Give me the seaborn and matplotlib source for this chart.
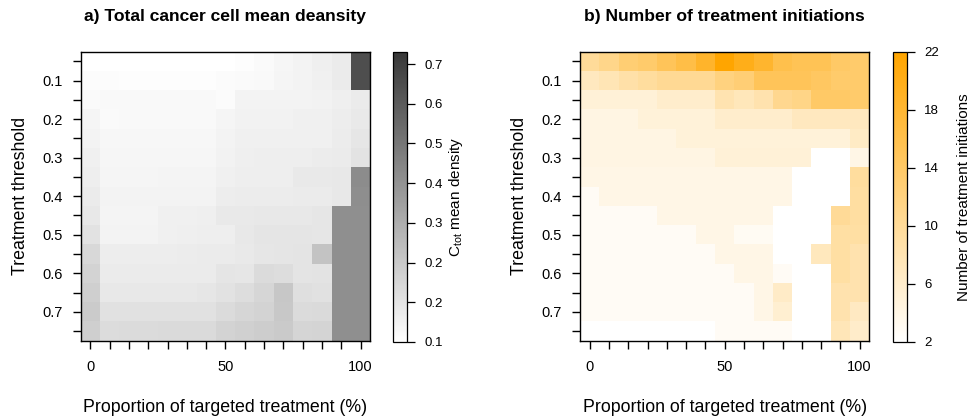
import numpy as np
import pandas as pd
import matplotlib
matplotlib.use("Agg")
import matplotlib.pyplot as plt
import seaborn as sns
from matplotlib.colors import LinearSegmentedColormap

# ---------------- data ----------------
proportion = [0, 7.1, 14.3, 21.4, 28.6, 35.7, 42.9, 50, 57.1, 64.3, 71.4, 78.6, 85.7, 92.9, 100]
threshold = [0.05, 0.10, 0.15, 0.20, 0.25, 0.30, 0.35, 0.40, 0.45, 0.50, 0.55, 0.60, 0.65, 0.70, 0.75]
x_tick_labels = ["0", "", "", "", "", "", "", "50", "", "", "", "", "", "", "100"]
y_tick_labels = ["", "0.1", "", "0.2", "", "0.3", "", "0.4", "", "0.5", "", "0.6", "", "0.7", ""]

density = [
    [.100, .100, .100, .100, .100, .100, .100, .100, .106, .116, .128, .138, .151, .166, .657],
    [.110, .110, .106, .106, .106, .106, .106, .113, .116, .122, .132, .138, .147, .166, .657],
    [.119, .122, .122, .122, .122, .122, .122, .113, .138, .138, .141, .141, .144, .151, .163],
    [.132, .116, .122, .122, .122, .122, .122, .132, .144, .144, .144, .147, .147, .157, .170],
    [.138, .125, .125, .125, .125, .125, .125, .138, .147, .147, .147, .147, .147, .160, .179],
    [.147, .128, .128, .128, .128, .128, .128, .144, .151, .154, .154, .154, .160, .166, .189],
    [.154, .132, .132, .132, .135, .135, .135, .147, .154, .154, .154, .170, .170, .173, .464],
    [.163, .138, .138, .138, .138, .138, .141, .157, .160, .160, .160, .166, .166, .173, .458],
    [.176, .135, .135, .135, .147, .147, .151, .170, .170, .173, .173, .173, .179, .455, .455],
    [.192, .138, .138, .138, .147, .151, .154, .154, .176, .182, .182, .182, .179, .455, .455],
    [.223, .157, .157, .157, .157, .160, .163, .163, .170, .179, .182, .185, .290, .455, .455],
    [.239, .163, .163, .163, .163, .166, .166, .182, .179, .214, .208, .185, .189, .455, .455],
    [.252, .173, .173, .176, .176, .176, .179, .192, .208, .230, .277, .201, .195, .455, .455],
    [.265, .195, .195, .195, .198, .198, .198, .214, .230, .242, .274, .214, .217, .455, .455],
    [.252, .211, .214, .214, .217, .217, .220, .239, .249, .258, .268, .233, .236, .455, .455],
]

initiations = [
    [10.0, 11.2, 13.0, 13.6, 15.0, 16.4, 18.6, 22.0, 20.0, 18.4, 16.0, 15.3, 15.3, 14.0, 13.6],
    [7.0, 7.8, 8.8, 9.6, 10.4, 10.4, 10.4, 12.0, 12.8, 15.0, 15.0, 15.0, 14.4, 13.6, 13.6],
    [5.2, 5.2, 5.2, 5.2, 6.0, 6.0, 6.0, 8.2, 7.4, 8.4, 10.8, 11.4, 14.0, 14.0, 13.6],
    [4.2, 4.2, 4.2, 5.0, 5.0, 5.0, 5.0, 6.0, 6.0, 6.0, 6.0, 7.0, 7.0, 7.0, 7.0],
    [4.2, 4.2, 4.2, 4.2, 4.2, 5.0, 5.0, 5.0, 5.0, 5.0, 5.0, 5.0, 5.0, 5.0, 6.6],
    [4.2, 4.2, 4.2, 4.2, 4.2, 4.2, 4.2, 5.2, 5.2, 5.2, 5.2, 5.2, 2.0, 2.0, 4.0],
    [4.0, 4.0, 4.0, 4.0, 4.0, 4.0, 4.0, 4.0, 4.0, 4.0, 4.0, 2.0, 2.0, 2.0, 9.6],
    [2.8, 4.0, 4.0, 4.0, 4.0, 4.0, 4.0, 4.0, 4.0, 4.0, 4.0, 2.0, 2.0, 2.0, 9.4],
    [2.8, 2.8, 2.8, 2.8, 4.0, 4.0, 4.0, 4.0, 4.0, 4.0, 2.0, 2.0, 2.0, 10.2, 9.4],
    [2.8, 2.8, 2.8, 2.8, 2.8, 2.8, 4.0, 4.0, 3.0, 3.0, 2.0, 2.0, 2.0, 9.2, 9.2],
    [2.8, 2.8, 2.8, 2.8, 2.8, 2.8, 2.8, 4.0, 4.0, 4.0, 2.0, 2.0, 7.2, 9.2, 8.4],
    [2.8, 2.8, 2.8, 2.8, 2.8, 2.8, 2.8, 2.8, 4.0, 4.0, 2.8, 2.0, 2.0, 9.2, 8.4],
    [2.8, 2.8, 2.8, 2.8, 2.8, 2.8, 2.8, 2.8, 2.8, 4.0, 6.4, 2.0, 2.0, 8.4, 8.4],
    [2.8, 2.8, 2.8, 2.8, 2.8, 2.8, 2.8, 2.8, 2.8, 4.0, 5.6, 2.0, 2.0, 8.4, 6.8],
    [2.0, 2.0, 2.0, 2.0, 2.0, 2.0, 2.0, 2.8, 2.8, 2.8, 2.8, 2.0, 2.0, 7.6, 6.2],
]

density_cbar_ticks = [0.1, 0.186, 0.272, 0.358, 0.444, 0.530, 0.616, 0.702]
density_cbar_labels = ["0.1", "0.2", "0.2", "0.3", "0.4", "0.5", "0.6", "0.7"]
init_cbar_ticks = [2, 6, 10, 14, 18, 22]
init_cbar_labels = ["2", "6", "10", "14", "18", "22"]

# ---------------- style ----------------
sns.set_style("white")
plt.rcParams["font.family"] = ["Liberation Sans", "DejaVu Sans"]
plt.rcParams["mathtext.fontset"] = "custom"
plt.rcParams["mathtext.rm"] = "Liberation Sans"
plt.rcParams["text.color"] = "black"
plt.rcParams["axes.labelcolor"] = "black"
plt.rcParams["xtick.color"] = "black"
plt.rcParams["ytick.color"] = "black"

W, H = 977, 417
fig = plt.figure(figsize=(W / 100, H / 100), dpi=100)

def fx(px):
    return px / W

def fy(py):
    return 1 - py / H

gray_cmap = LinearSegmentedColormap.from_list("grays_w", ["#ffffff", "#383838"])
orange_cmap = LinearSegmentedColormap.from_list("orange_w", ["#ffffff", "#ffa500"])

panels = [
    dict(data=density, cmap=gray_cmap, vmin=0.1, vmax=0.728,
         ax=[80.7, 370.2], cax=[393.3, 407.3],
         title="a) Total cancer cell mean deansity",
         cticks=density_cbar_ticks, clabels=density_cbar_labels,
         clabel=r"$\mathregular{C_{tot}}$ mean density", clabel_x=456),
    dict(data=initiations, cmap=orange_cmap, vmin=2, vmax=22,
         ax=[580.0, 869.3], cax=[893.3, 906.7],
         title="b) Number of treatment initiations",
         cticks=init_cbar_ticks, clabels=init_cbar_labels,
         clabel="Number of treatment initiations", clabel_x=964),
]

top, bottom = 51.7, 340.7
for p in panels:
    ax = fig.add_axes([fx(p["ax"][0]), fy(bottom), fx(p["ax"][1] - p["ax"][0]), (bottom - top) / H])
    cax = fig.add_axes([fx(p["cax"][0]), fy(342), fx(p["cax"][1] - p["cax"][0]), (342 - 52) / H])
    df = pd.DataFrame(p["data"], index=threshold, columns=proportion)
    sns.heatmap(df, ax=ax, cbar_ax=cax, cmap=p["cmap"], vmin=p["vmin"], vmax=p["vmax"],
                xticklabels=False, yticklabels=False)
    for s in ax.spines.values():
        s.set_visible(True)
        s.set_color("black")
        s.set_linewidth(1.0)
    ax.set_xticks(np.arange(len(proportion)) + 0.5)
    ax.set_xticklabels(x_tick_labels, rotation=0)
    ax.set_yticks(np.arange(len(threshold)) + 0.5)
    ax.set_yticklabels(y_tick_labels, rotation=0)
    ax.tick_params(axis="both", which="major", direction="out", length=6, width=1,
                   color="black", labelsize=10.5, labelcolor="black",
                   bottom=True, left=True)
    ax.tick_params(axis="x", pad=8)
    ax.tick_params(axis="y", pad=7)
    ax.set_xlabel("Proportion of targeted treatment (%)", fontsize=12.8, color="black")
    ax.xaxis.set_label_coords(0.5, (bottom - 408) / (bottom - top))
    ax.xaxis.label.set_va("center")
    ax.set_ylabel("Treatment threshold", fontsize=12.8, color="black")
    ax.yaxis.set_label_coords((20.5 - 80.7) / 289.5, 0.5)
    ax.yaxis.label.set_va("center")
    ax.set_title(p["title"], fontsize=12.6, fontweight="bold", color="black",
                 y=1 + (top - 17) / (bottom - top), va="center", pad=0)

    cb = ax.collections[0].colorbar
    cb.outline.set_visible(True)
    cb.outline.set_linewidth(0.9)
    cb.outline.set_edgecolor("black")
    cb.set_ticks(p["cticks"])
    cb.set_ticklabels(p["clabels"])
    cax.tick_params(direction="out", length=5.5, width=0.9, color="black",
                    labelsize=9.5, pad=7, labelcolor="black")
    fig.text(fx(p["clabel_x"]), fy(197), p["clabel"], rotation=90,
             ha="center", va="center", fontsize=11, color="black")

fig.savefig("out.png", dpi=100)
